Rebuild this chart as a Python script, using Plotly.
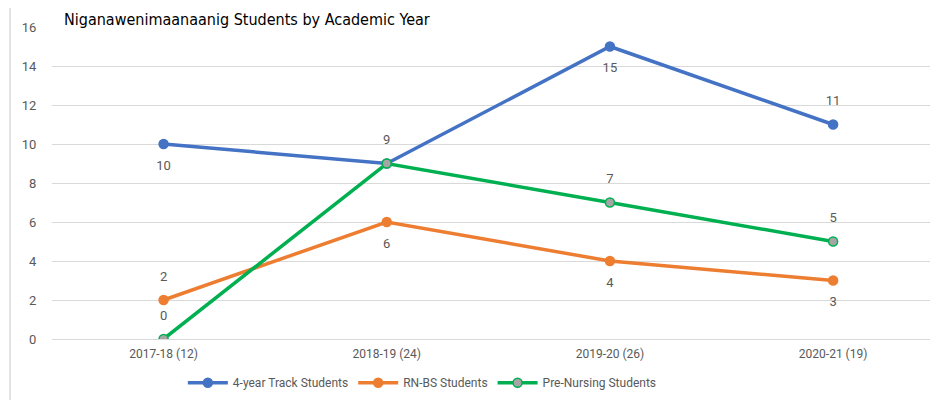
import plotly.graph_objects as go

years = ["2017-18 (12)", "2018-19 (24)", "2019-20 (26)", "2020-21 (19)"]
four_year = [10, 9, 15, 11]
rn_bs = [2, 6, 4, 3]
pre_nursing = [0, 9, 7, 5]

# where Excel put each data label (blue 9 is hidden under the green 9)
pos_four_year = ["bottom center", "top center", "bottom center", "top center"]
show_four_year = [True, False, True, True]
pos_rn_bs = ["top center", "bottom center", "bottom center", "bottom center"]
show_rn_bs = [True, True, True, True]
pos_pre_nursing = ["top center", "top center", "top center", "top center"]
show_pre_nursing = [True, True, True, True]

label_font = dict(family="Roboto, Arial", size=13, color="#595959")

series = [
    ("4-year Track Students", four_year, pos_four_year, show_four_year, "#4472C4", "#4472C4"),
    ("RN-BS Students", rn_bs, pos_rn_bs, show_rn_bs, "#ED7D31", "#ED7D31"),
    ("Pre-Nursing Students", pre_nursing, pos_pre_nursing, show_pre_nursing, "#00B050", "#A5A5A5"),
]

fig = go.Figure()
for name, vals, pos, show, col, fill in series:
    fig.add_trace(go.Scatter(
        x=years, y=vals, name=name, mode="lines+markers",
        line=dict(color=col, width=3.5),
        marker=dict(size=9, color=fill, line=dict(color=col, width=1.5)),
    ))
for name, vals, pos, show, col, fill in series:
    # labels on a separate trace with a big invisible marker so they sit further out
    fig.add_trace(go.Scatter(
        x=years, y=vals, mode="markers+text", showlegend=False, hoverinfo="skip",
        text=[str(v) if s else "" for v, s in zip(vals, show)],
        textposition=pos, textfont=label_font,
        marker=dict(size=24, color="rgba(0,0,0,0)"),
    ))

fig.update_layout(
    width=930, height=392,
    margin=dict(l=44, r=0, t=19, b=61),
    paper_bgcolor="white", plot_bgcolor="white",
    font=dict(family="Roboto, Arial", size=12, color="#595959"),
    showlegend=True,
    legend=dict(orientation="h", x=0.418, xanchor="center", y=-0.14, yanchor="middle",
                font=dict(size=12, color="#595959"), itemwidth=40),
    xaxis=dict(type="category", range=[-0.5, 3.47], showgrid=False, showline=False,
               zeroline=False, ticks="outside", ticklen=4, tickcolor="rgba(0,0,0,0)",
               tickfont=dict(size=12, color="#595959")),
    yaxis=dict(range=[0, 16], dtick=2, showgrid=True, gridcolor="#D9D9D9", gridwidth=1,
               zeroline=True, zerolinecolor="#D9D9D9", zerolinewidth=1, showline=False,
               ticks="outside", ticklen=12, tickcolor="rgba(0,0,0,0)",
               tickfont=dict(size=13, color="#595959")),
    annotations=[dict(
        text="Niganawenimaanaanig Students by Academic Year",
        xref="paper", yref="paper", x=0.0113, y=1.025, xanchor="left", yanchor="middle",
        showarrow=False,
        font=dict(family="DejaVu Sans Condensed, Roboto, sans-serif",
                  size=16, color="#000000"),
    )],
    shapes=[
        dict(type="line", xref="paper", yref="paper", x0=-0.0474, x1=-0.0474, y0=-0.3, y1=1.1,
             line=dict(color="#D9D9D9", width=1.5)),
    ],
)

fig.write_html("out.html")
